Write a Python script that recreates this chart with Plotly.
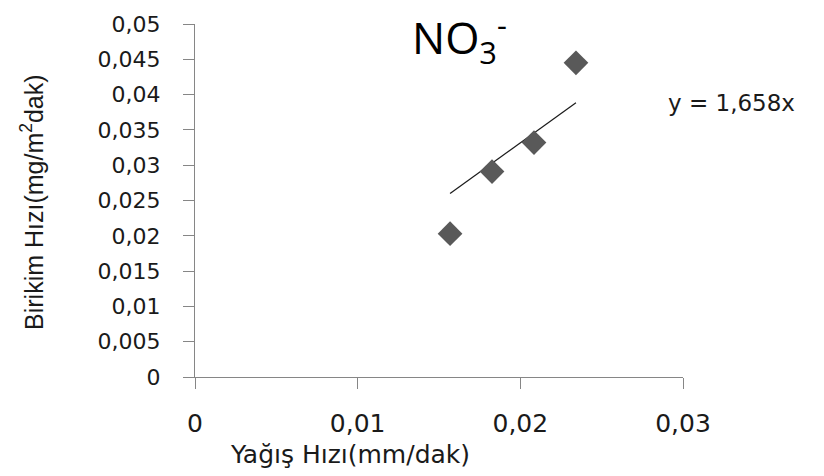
import plotly.graph_objects as go

# Data
x_rain = [0.01568, 0.01826, 0.02084, 0.02342]
y_dep = [0.0203, 0.0291, 0.0332, 0.0445]
slope = 1.658
x_ticks = [0, 0.01, 0.02, 0.03]
x_ticklabels = ["0", "0,01", "0,02", "0,03"]
y_ticks = [0, 0.005, 0.01, 0.015, 0.02, 0.025, 0.03, 0.035, 0.04, 0.045, 0.05]
y_ticklabels = ["0", "0,005", "0,01", "0,015", "0,02", "0,025", "0,03", "0,035", "0,04", "0,045", "0,05"]

trend_x = [min(x_rain), max(x_rain)]
trend_y = [slope * v for v in trend_x]

fig = go.Figure()
fig.add_trace(go.Scatter(
    x=trend_x, y=trend_y, mode="lines",
    line=dict(color="#1a1a1a", width=1.2), showlegend=False, hoverinfo="skip"))
fig.add_trace(go.Scatter(
    x=x_rain, y=y_dep, mode="markers",
    marker=dict(symbol="diamond", size=19, color="#595959", line=dict(width=0)),
    showlegend=False))

axis_common = dict(showgrid=False, zeroline=False, showline=True,
                   linecolor="#868686", linewidth=1.3,
                   ticks="outside", tickcolor="#868686", tickwidth=1.3, ticklen=11)

fig.update_xaxes(range=[0, 0.03], tickvals=x_ticks, ticktext=x_ticklabels,
                 tickfont=dict(family="DejaVu Sans", size=25, color="#1a1a1a"),
                 ticklabelstandoff=13, **axis_common)
fig.update_yaxes(range=[0, 0.05], tickvals=y_ticks, ticktext=y_ticklabels,
                 tickfont=dict(family="DejaVu Sans", size=22, color="#1a1a1a"),
                 ticklabelstandoff=18, **axis_common)

fig.update_layout(
    width=824, height=476,
    margin=dict(l=195, r=141, t=20, b=99),
    paper_bgcolor="white", plot_bgcolor="white",
    annotations=[
        dict(text="NO<sub>3</sub><sup>-</sup>", xref="paper", yref="paper",
             x=(410 - 195) / 488, y=(377 - 34) / 357, xanchor="left", yanchor="middle",
             showarrow=False, font=dict(family="Open Sans", size=44, color="#000000")),
        dict(text="y = 1,658x", xref="paper", yref="paper",
             x=(666 - 195) / 488, y=(377 - 100) / 357, xanchor="left", yanchor="middle",
             showarrow=False, font=dict(family="DejaVu Sans", size=23, color="#1a1a1a")),
        dict(text="Yağış Hızı(mm/dak)", xref="paper", yref="paper",
             x=(350 - 195) / 488, y=(377 - 455) / 357, xanchor="center", yanchor="middle",
             showarrow=False, font=dict(family="DejaVu Sans", size=25, color="#1a1a1a")),
        dict(text="Birikim Hızı(mg/m<sup>2</sup>dak)", xref="paper", yref="paper",
             x=(32 - 195) / 488, y=(377 - 200) / 357, xanchor="center", yanchor="middle",
             textangle=-90, showarrow=False,
             font=dict(family="Liberation Sans Narrow, Liberation Sans", size=25, color="#1a1a1a")),
    ],
)

fig.write_html("out.html")
